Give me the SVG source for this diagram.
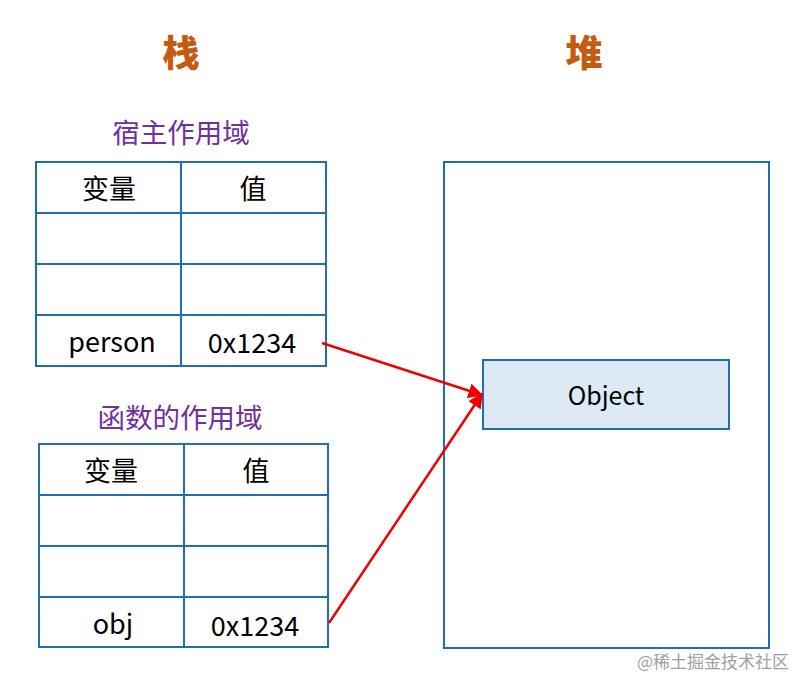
<svg xmlns="http://www.w3.org/2000/svg" width="809" height="690" viewBox="0 0 809 690">
<style>
.box{fill:none;stroke:#1f6fb0;stroke-width:2}
.t{font-family:"Noto Sans CJK SC","Noto Sans",sans-serif;font-size:27px;fill:#000;text-anchor:middle;dominant-baseline:central}
.title{font-family:"Noto Sans CJK SC",sans-serif;font-size:37px;font-weight:900;fill:#c55a11;text-anchor:middle;dominant-baseline:central}
.sub{font-family:"Noto Sans CJK SC",sans-serif;font-size:27.5px;fill:#7030a0;text-anchor:middle;dominant-baseline:central}
.arr{stroke:#ee0000;stroke-width:2.5;fill:none;marker-end:url(#ah)}
</style>
<defs>
<marker id="ah" viewBox="0 0 10 10" refX="9" refY="5" markerWidth="6" markerHeight="6" orient="auto" markerUnits="strokeWidth"><path d="M0,0 L10,5 L0,10 z" fill="#ee0000"/></marker>
</defs>
<rect width="809" height="690" fill="#fff"/>
<text class="title" x="181" y="51">栈</text>
<text class="title" x="584" y="51">堆</text>
<g id="host-scope">
<text class="sub" x="181" y="131">宿主作用域</text>
<rect class="box" x="36" y="162" width="290" height="204"/>
<line class="box" x1="181" y1="162" x2="181" y2="366"/>
<line class="box" x1="36" y1="213" x2="326" y2="213"/>
<line class="box" x1="36" y1="264" x2="326" y2="264"/>
<line class="box" x1="36" y1="315" x2="326" y2="315"/>
<text class="t" x="109" y="187">变量</text>
<text class="t" x="253" y="187">值</text>
<text class="t" x="112" y="340">person</text>
<text class="t" x="252" y="341">0x1234</text>
</g>
<g id="func-scope">
<text class="sub" x="180" y="416">函数的作用域</text>
<rect class="box" x="39" y="444" width="289" height="203"/>
<line class="box" x1="184" y1="444" x2="184" y2="647"/>
<line class="box" x1="39" y1="495" x2="328" y2="495"/>
<line class="box" x1="39" y1="546" x2="328" y2="546"/>
<line class="box" x1="39" y1="597" x2="328" y2="597"/>
<text class="t" x="111" y="469">变量</text>
<text class="t" x="256" y="469">值</text>
<text class="t" x="113" y="622">obj</text>
<text class="t" x="255" y="624">0x1234</text>
</g>
<g id="heap">
<rect class="box" x="444" y="162" width="325" height="486"/>
</g>
<g id="object">
<rect x="483" y="360" width="246" height="69" fill="#dde9f5" stroke="#1f6fb0" stroke-width="2"/>
<text class="t" x="606" y="394" style="font-size:25px">Object</text>
</g>
<g id="connectors">
<line class="arr" x1="322" y1="343" x2="482" y2="395"/>
<line class="arr" x1="329" y1="623" x2="482" y2="394"/>
</g>
<text x="713" y="660" style="font-family:'Noto Sans CJK SC',sans-serif;font-size:17px;fill:#a0a0a0;text-anchor:middle;dominant-baseline:central">@稀土掘金技术社区</text>
</svg>
